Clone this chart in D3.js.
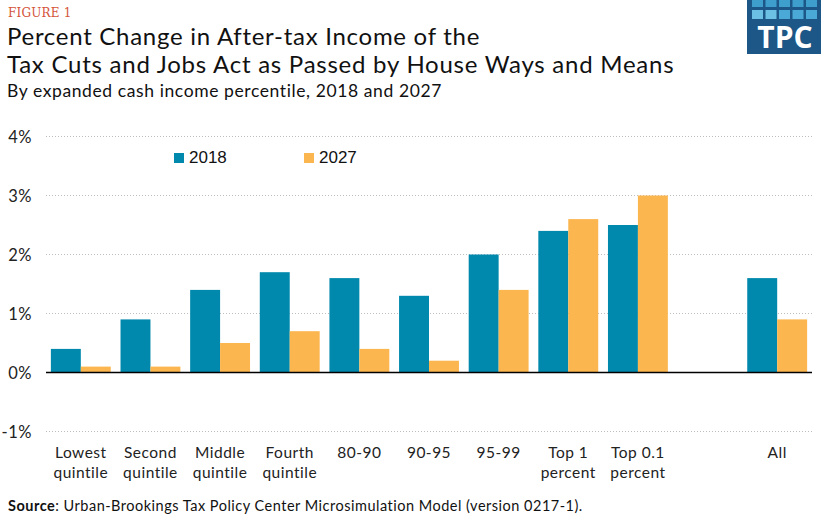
<!DOCTYPE html>
<html><head><meta charset="utf-8">
<script src="https://cdn.jsdelivr.net/npm/d3@7"></script>
<style>body{margin:0;background:#fff}svg{display:block;font-family:Lato,"Noto Sans",sans-serif}</style>
</head><body>
<svg id="c" width="821" height="518"></svg>
<script>
const categories = ["Lowest\nquintile","Second\nquintile","Middle\nquintile","Fourth\nquintile","80-90","90-95","95-99","Top 1\npercent","Top 0.1\npercent","","All"];
const values2018 = [0.4,0.9,1.4,1.7,1.6,1.3,2.0,2.4,2.5,null,1.6];
const values2027 = [0.1,0.1,0.5,0.7,0.4,0.2,1.4,2.6,3.0,null,0.9];
const seriesNames = ["2018","2027"];
const seriesColors = ["#0189ad","#fcb64f"];
const yTicks = [-1,0,1,2,3,4];

const svg = d3.select("#c");
const x0 = d3.scaleBand().domain(d3.range(categories.length)).range([46,812]).paddingInner(0.14).paddingOuter(0.07);
const x1 = d3.scaleBand().domain(seriesNames).range([0,x0.bandwidth()]);
const y = d3.scaleLinear().domain([-1,4]).range([431.5,136.5]);

// header
svg.append("text").attr("x",8).attr("y",17).attr("fill","#d4553a").style("font-family","'DejaVu Serif','Liberation Serif',serif").attr("font-size",12).style("letter-spacing","0.2px").text("FIGURE 1");
svg.append("text").attr("x",7).attr("y",45).attr("font-size",24).style("letter-spacing","0.72px").attr("fill","#111").text("Percent Change in After-tax Income of the");
svg.append("text").attr("x",7).attr("y",73).attr("font-size",24).style("letter-spacing","0.75px").attr("fill","#111").text("Tax Cuts and Jobs Act as Passed by House Ways and Means");
svg.append("text").attr("x",7).attr("y",97).attr("font-size",17.5).style("letter-spacing","0.6px").attr("fill","#111").text("By expanded cash income percentile, 2018 and 2027");

// logo
const logo = svg.append("g");
logo.append("rect").attr("x",747).attr("y",0).attr("width",74).attr("height",54).attr("fill","#1c5787");
for(let i=0;i<5;i++){
  logo.append("rect").attr("x",752+i*13.5).attr("y",0).attr("width",11).attr("height",7).attr("fill","#3e9fcd");
  logo.append("rect").attr("x",752+i*13.5).attr("y",10).attr("width",11).attr("height",9).attr("fill",i<2?"#6cc0e4":"#4aa9d6");
}
logo.append("text").attr("x",785).attr("y",48).attr("text-anchor","middle").attr("fill","#fff").style("font-family","'Open Sans',sans-serif").attr("font-weight",700).attr("font-size",30).text("TPC");

// grid
svg.append("g").selectAll("line").data(yTicks.filter(d=>d!==0)).join("line")
  .attr("x1",46).attr("x2",812).attr("y1",d=>y(d)).attr("y2",d=>y(d))
  .attr("stroke","#bdbdbd").attr("stroke-width",1).attr("stroke-dasharray","1,2");

// y axis labels
const yAxis = d3.axisLeft(y).tickValues(yTicks).tickFormat(d=>d+"%").tickSize(0).tickPadding(0);
const ya = svg.append("g").attr("transform","translate(32,0)").call(yAxis);
ya.select(".domain").remove();
ya.selectAll("text").attr("font-size",16.5).attr("fill","#222").style("font-family","Lato,sans-serif").style("letter-spacing","0.5px").attr("dy","0.35em");

// bars
const data = categories.map((c,i)=>({i, vals:[values2018[i],values2027[i]]}));
const g = svg.append("g").selectAll("g").data(data).join("g").attr("transform",d=>`translate(${x0(d.i)},0)`);
g.selectAll("rect").data(d=>d.vals.map((v,k)=>({v,k})).filter(e=>e.v!=null)).join("rect")
  .attr("x",e=>x1(seriesNames[e.k])).attr("width",x1.bandwidth())
  .attr("y",e=>y(Math.max(0,e.v))).attr("height",e=>Math.abs(y(e.v)-y(0)))
  .attr("fill",e=>seriesColors[e.k]);

// zero line
svg.append("line").attr("x1",46).attr("x2",812).attr("y1",y(0)).attr("y2",y(0)).attr("stroke","#000").attr("stroke-width",1.5);

// x labels
const xl = svg.append("g").selectAll("text").data(categories.map((c,i)=>({c,i}))).join("text")
  .attr("x",d=>x0(d.i)+x0.bandwidth()/2).attr("y",458).attr("text-anchor","middle").attr("font-size",15.5).style("letter-spacing","0.5px").attr("fill","#222");
xl.selectAll("tspan").data(d=>d.c.split("\n")).join("tspan").attr("x",function(){return this.parentNode.getAttribute("x");}).attr("dy",(d,k)=>k?20:0).text(d=>d);

// legend
const leg = svg.append("g").selectAll("g").data(seriesNames).join("g").attr("transform",(d,k)=>`translate(${174+k*130},153)`);
leg.append("rect").attr("width",10).attr("height",10).attr("fill",(d,k)=>seriesColors[k]);
leg.append("text").attr("x",15).attr("y",10).style("font-family","'Liberation Sans',Arial,sans-serif").attr("font-size",17).attr("fill","#111").text(d=>d);

// source
const src = svg.append("text").attr("x",8).attr("y",511).attr("font-size",14.5).style("letter-spacing","0.5px").attr("fill","#111");
src.append("tspan").attr("font-weight",700).text("Source");
src.append("tspan").text(": Urban-Brookings Tax Policy Center Microsimulation Model (version 0217-1).");
</script>
</body></html>
